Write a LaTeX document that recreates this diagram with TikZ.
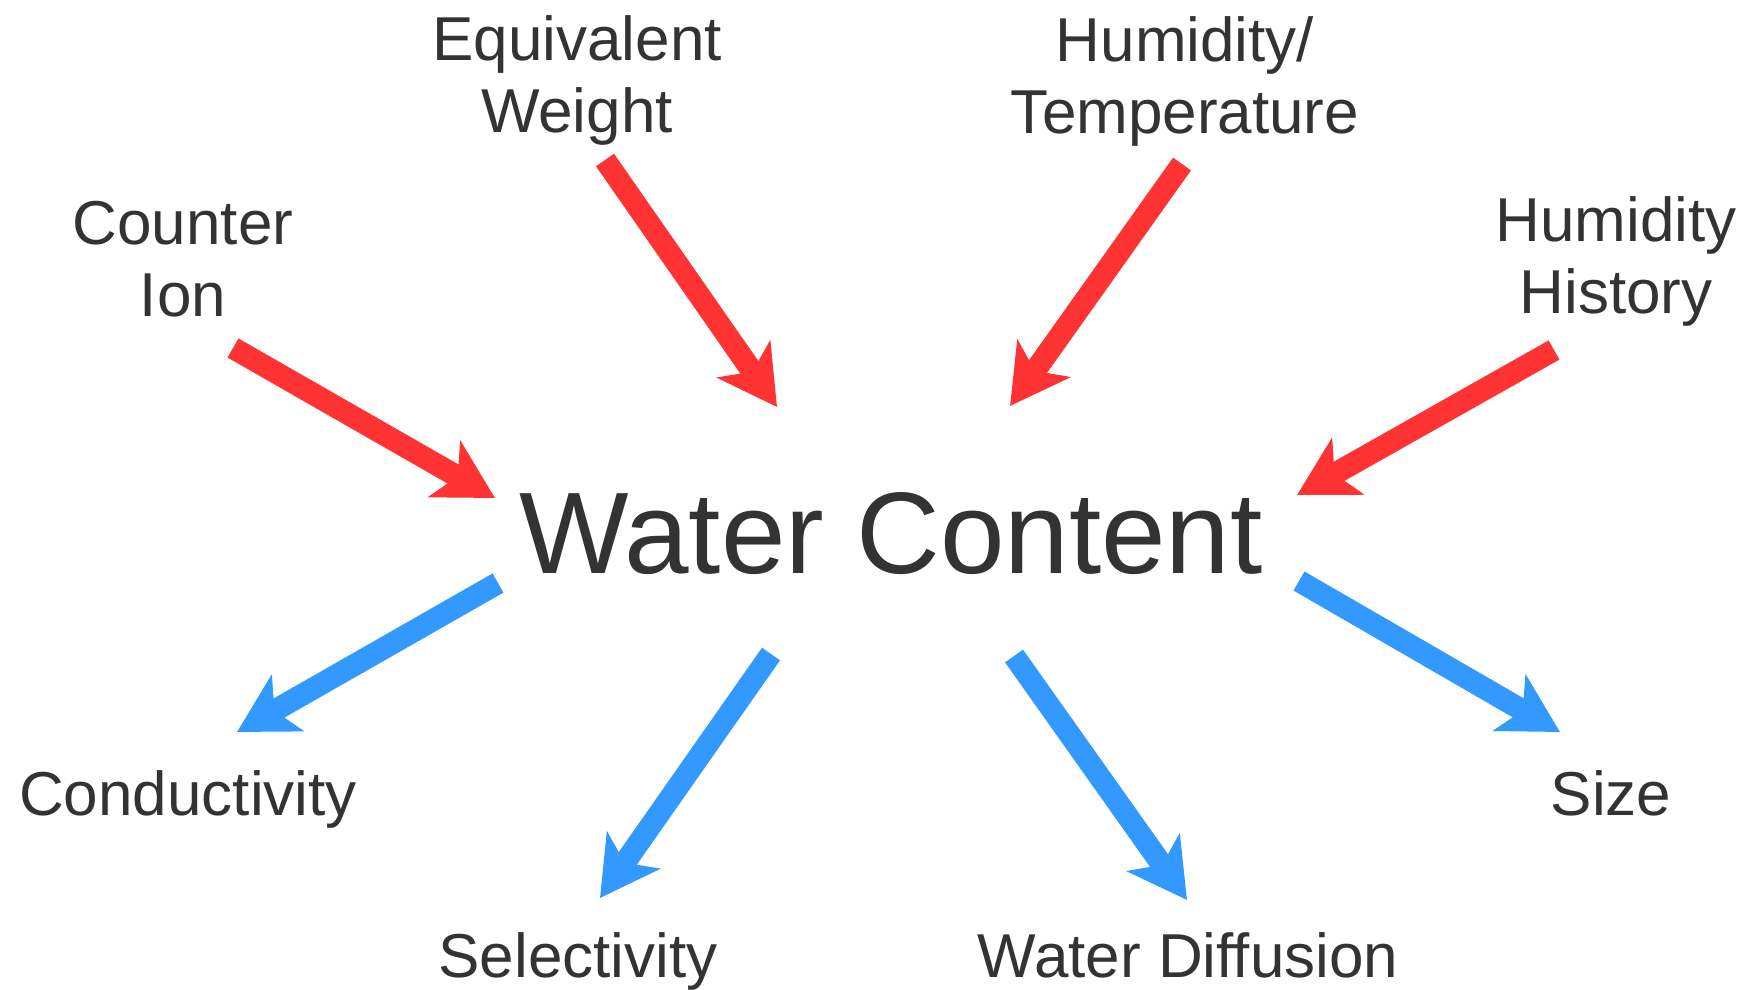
\documentclass[tikz,border=0pt]{standalone}
\usepackage{fontspec}
\setmainfont{Liberation Sans}
\usetikzlibrary{arrows.meta}
\definecolor{txt}{HTML}{333333}
\definecolor{inred}{HTML}{FF3333}
\definecolor{outblue}{HTML}{3399FF}
\tikzset{
  lbl/.style={inner sep=0pt, anchor=base, text=txt, align=center, font=\fontsize{62}{72}\selectfont},
  bigtitle/.style={inner sep=0pt, anchor=base, text=txt, font=\fontsize{116}{130}\selectfont},
  fatarrow/.style={line width=22pt, -{Stealth[length=58pt, width=64pt, inset=15pt]}},
  inarrow/.style={fatarrow, draw=inred, fill=inred},
  outarrow/.style={fatarrow, draw=outblue, fill=outblue}
}
\begin{document}
\begin{tikzpicture}[x=1pt, y=-1pt]
\useasboundingbox (0,0) rectangle (1753,989);
\fill[white] (0,0) rectangle (1753,989);
% labels (base anchor = baseline of the last line)
\node[bigtitle] (water) at (891,573) {Water Content};
\node[lbl] (counter) at (183,316) {Counter\\Ion};
\node[lbl] (equiv) at (577,132) {Equivalent\\Weight};
\node[lbl] (humtemp) at (1185,133) {Humidity/\\Temperature};
\node[lbl] (humhist) at (1616,313) {Humidity\\History};
\node[lbl] (cond) at (188,815) {Conductivity};
\node[lbl] (sel) at (578,977) {Selectivity};
\node[lbl] (wdiff) at (1188,977) {Water Diffusion};
\node[lbl] (size) at (1611,815) {Size};
% arrow ends
\coordinate (a1s) at (233,348); \coordinate (a1e) at (495,498);
\coordinate (a2s) at (605,160); \coordinate (a2e) at (777,407);
\coordinate (a3s) at (1182,164); \coordinate (a3e) at (1010,406);
\coordinate (a4s) at (1554,350); \coordinate (a4e) at (1297,495);
\coordinate (b1s) at (498,583); \coordinate (b1e) at (237,732);
\coordinate (b2s) at (771,654); \coordinate (b2e) at (600,898);
\coordinate (b3s) at (1014,656); \coordinate (b3e) at (1187,900);
\coordinate (b4s) at (1299,581); \coordinate (b4e) at (1560,732);
% arrows
\draw[inarrow] (a1s) -- (a1e);
\draw[inarrow] (a2s) -- (a2e);
\draw[inarrow] (a3s) -- (a3e);
\draw[inarrow] (a4s) -- (a4e);
\draw[outarrow] (b1s) -- (b1e);
\draw[outarrow] (b2s) -- (b2e);
\draw[outarrow] (b3s) -- (b3e);
\draw[outarrow] (b4s) -- (b4e);
\end{tikzpicture}
\end{document}
